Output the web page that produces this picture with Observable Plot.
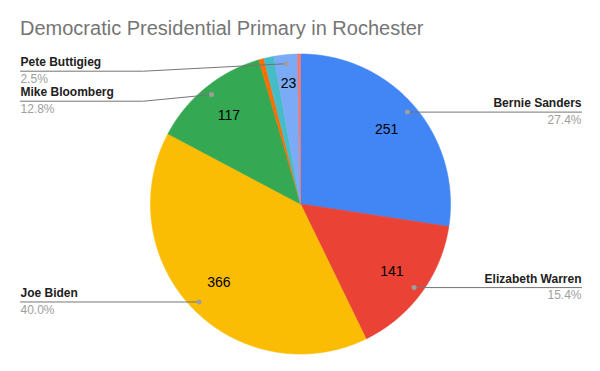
<!DOCTYPE html>
<html><head><meta charset="utf-8">
<script src="https://cdn.jsdelivr.net/npm/d3@7"></script>
<script src="https://cdn.jsdelivr.net/npm/@observablehq/plot@0.6"></script>
<style>
body{margin:0;background:#fff;font-family:"Liberation Sans",Arial,sans-serif;}
#title{height:40px;box-sizing:border-box;padding:18px 0 0 20px;font-size:20px;line-height:20px;color:#757575;white-space:nowrap;}
</style></head><body>
<div id="title">Democratic Presidential Primary in Rochester</div>
<div id="chart"></div>
<script>
// ---- data ----
const candidates = ["Bernie Sanders","Elizabeth Warren","Joe Biden","Mike Bloomberg","Amy Klobuchar","Tulsi Gabbard","Pete Buttigieg","Other"];
const votes = [251,141,366,117,5,10,23,3];
const outsideLabeled = ["Bernie Sanders","Elizabeth Warren","Joe Biden","Mike Bloomberg","Pete Buttigieg"];
// ---- style ----
const colors = ["#4285f4","#ea4335","#fbbc04","#34a853","#ff6d01","#46bdc6","#7baaf7","#f07b72"];

const W = 600, H = 331, cx = 300, cy = 163.5, R = 150;
const leftX = 20, rightX = 581, minLineY = 30.7, gap = 30, kneeX = 143;
const total = d3.sum(votes);
const slices = candidates.map((name, i) => ({name, v: votes[i], color: colors[i]}));
const arcs = d3.pie().sort(null).value(d => d.v)(slices);
const px = (a, r) => cx + r * Math.sin(a);
const py = (a, r) => cy - r * Math.cos(a);

// wedge outlines
const wedgeMarks = arcs.map(a => {
  const pts = [{x: cx, y: cy}];
  const n = Math.max(2, Math.ceil((a.endAngle - a.startAngle) / 0.005));
  for (let k = 0; k <= n; k++) {
    const t = a.startAngle + (a.endAngle - a.startAngle) * k / n;
    pts.push({x: px(t, R), y: py(t, R)});
  }
  pts.push({x: cx, y: cy});
  return Plot.line(pts, {x: "x", y: "y", fill: a.data.color, stroke: a.data.color, strokeWidth: 0.6});
});

// inner value labels (narrow slices push their label outward)
const inner = arcs.filter(a => a.endAngle - a.startAngle > 0.12).map(a => {
  const m = (a.startAngle + a.endAngle) / 2;
  const rr = (a.endAngle - a.startAngle < 0.25 ? 0.81 : 0.757) * R;
  return {x: px(m, rr), y: py(m, rr), text: String(a.data.v)};
});

// outside labels
const outs = arcs.filter(a => outsideLabeled.includes(a.data.name)).map(a => {
  const m = (a.startAngle + a.endAngle) / 2;
  return {name: a.data.name, pct: d3.format(".1%")(a.data.v / total),
          ax: px(m, 0.94 * R), ay: py(m, 0.94 * R), right: m < Math.PI};
});
for (const side of [true, false]) {
  const group = outs.filter(o => o.right === side).sort((a, b) => a.ay - b.ay);
  let prev = -Infinity;
  for (const o of group) {
    o.ly = Math.max(o.ay, minLineY, prev + gap);
    prev = o.ly;
    o.lx = side ? rightX : leftX;
  }
}
const leaders = [];
outs.forEach((o, i) => {
  if (o.right || Math.abs(o.ly - o.ay) < 0.5) {
    leaders.push({id: i, x: o.ax, y: o.ay}, {id: i, x: o.lx, y: o.ly});
  } else {
    leaders.push({id: i, x: o.lx, y: o.ly}, {id: i, x: kneeX, y: o.ly}, {id: i, x: o.ax, y: o.ay});
  }
});
const rightOuts = outs.filter(o => o.right), leftOuts = outs.filter(o => !o.right);
const nameOpts = {x: "lx", y: "ly", text: "name", fontSize: 12, fontWeight: "bold", fill: "#212121", lineAnchor: "bottom", dy: -5};
const pctOpts = {x: "lx", y: "ly", text: "pct", fontSize: 12, fill: "#9e9e9e", lineAnchor: "bottom", dy: 11.6};

const chart = Plot.plot({
  width: W, height: H, margin: 0,
  style: {fontFamily: "'Liberation Sans', Arial, sans-serif", background: "#fff"},
  x: {domain: [0, W], range: [0, W], axis: null},
  y: {domain: [0, H], range: [0, H], axis: null},
  marks: [
    ...wedgeMarks,
    Plot.line(leaders, {x: "x", y: "y", z: "id", stroke: "#757575", strokeWidth: 1}),
    Plot.dot(outs, {x: "ax", y: "ay", r: 2.5, fill: "#9e9e9e", stroke: null}),
    Plot.text(inner, {x: "x", y: "y", text: "text", fontSize: 14, fill: "#000", lineAnchor: "middle"}),
    Plot.text(rightOuts, {...nameOpts, textAnchor: "end"}),
    Plot.text(leftOuts, {...nameOpts, textAnchor: "start"}),
    Plot.text(rightOuts, {...pctOpts, textAnchor: "end"}),
    Plot.text(leftOuts, {...pctOpts, textAnchor: "start"})
  ]
});
document.getElementById("chart").appendChild(chart);
</script>
</body></html>
